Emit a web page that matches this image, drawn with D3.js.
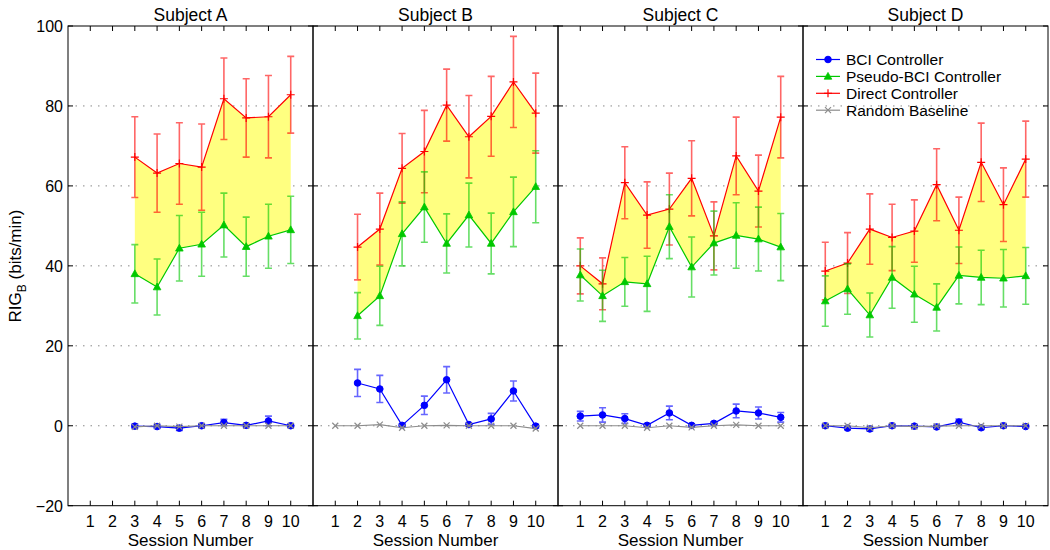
<!DOCTYPE html>
<html><head><meta charset="utf-8">
<script src="https://cdn.jsdelivr.net/npm/d3@7"></script>
<style>body{margin:0;background:#fff}svg{display:block;font-family:"Liberation Sans",Arial,sans-serif}</style>
</head><body><svg id="c" width="1050" height="550"></svg>
<script>
const subjects = ["Subject A","Subject B","Subject C","Subject D"];
const sessions = [1,2,3,4,5,6,7,8,9,10];
const yTicks = [-20,0,20,40,60,80,100];
const gridTicks = [0,20,40,60,80];
const seriesNames = ["BCI Controller","Pseudo-BCI Controller","Direct Controller","Random Baseline"];

const bciMean = [
  [null,null,-0.1,-0.2,-0.6,0,0.8,0.1,1.2,0],
  [null,10.7,9.2,0.1,5.1,11.5,0.3,1.7,8.7,-0.1],
  [2.4,2.7,1.8,0.1,3.2,0.1,0.6,3.7,3.2,2.1],
  [0,-0.6,-0.8,0,-0.1,-0.3,0.9,-0.5,0,-0.2]];
const bciErr = [
  [null,null,0.5,0.5,0.6,0.5,0.8,0.4,1.2,0.4],
  [null,3.4,3.4,0.4,2.3,3.3,0.4,1.4,2.5,0.4],
  [1.2,1.8,1.2,0.4,1.7,0.4,0.4,1.7,1.5,1.2],
  [0.4,0.4,0.5,0.4,0.4,0.4,0.8,0.4,0.4,0.4]];
const pseudoMean = [
  [null,null,38,34.7,44.4,45.4,50.2,44.8,47.4,49],
  [null,27.5,32.5,48,54.7,45.6,52.7,45.6,53.5,59.8],
  [37.7,32.5,36,35.5,49.8,39.7,45.7,47.6,46.7,44.7],
  [31.2,34.2,27.7,37.1,32.9,29.6,37.6,37.1,36.9,37.5]];
const pseudoErr = [
  [null,null,7.3,7,8.2,8,8,7.4,8,8.4],
  [null,5.8,7.4,8,8.8,7.4,8,7.6,8.7,9],
  [6.5,6.4,6.1,6.9,8,7.5,8,8.2,8,8.4],
  [6.3,6.3,5.5,7.7,7,5.9,7.1,6.8,7.2,7.1]];
const directMean = [
  [null,null,67.2,63.2,65.6,64.7,81.8,77,77.3,82.8],
  [null,44.7,49.2,64.4,68.6,80.2,72.3,77.4,86,78.2],
  [40,35.5,60.8,52.7,54.2,61.9,47.5,67.5,58.7,77.2],
  [38.7,40.7,49.2,47.1,48.7,60.3,48.9,65.9,55.3,66.7]];
const directErr = [
  [null,null,10.1,9.8,10.2,10.8,10.2,9.8,10.3,9.6],
  [null,8.2,9,8.7,10.3,9,10.3,10,11.4,10],
  [7,6.5,9,8.3,9,9.4,8.5,9.7,9,10.2],
  [7.2,7.6,8.8,8.3,7.8,9,8.3,9.8,9.2,9.5]];
const randomMean = [
  [null,null,-0.3,0,-0.2,0,0,0,0,0],
  [0,0,0.3,-0.5,0,0.1,0,0,0,-0.7],
  [0,0,0,-0.5,0,-0.4,0,0.2,0,0],
  [0,0,-0.5,0,-0.2,-0.1,0,0,0,0]];

const colors = {bci:"#0000ff", pseudo:"#00c800", direct:"#ff0000", random:"#8c8c8c", fill:"#ffff80"};

const svg = d3.select("#c");
const plotLeft = 68, pw = 245, plotTop = 26, plotBottom = 505.7;
const y = d3.scaleLinear().domain([-20,100]).range([plotBottom, plotTop]);

function marker(g, type, cx, cy, color) {
  if (type === "circle") g.append("circle").attr("cx",cx).attr("cy",cy).attr("r",3.3).attr("fill",color).attr("stroke",color);
  else if (type === "tri") g.append("path").attr("d",`M${cx},${cy-4}L${cx+3.8},${cy+2.8}L${cx-3.8},${cy+2.8}Z`).attr("fill",color).attr("stroke",color).attr("stroke-width",0.8);
  else if (type === "plus") g.append("path").attr("d",`M${cx-4},${cy}H${cx+4}M${cx},${cy-4}V${cy+4}`).attr("stroke",color).attr("stroke-width",1.2);
  else if (type === "x") g.append("path").attr("d",`M${cx-3},${cy-3}L${cx+3},${cy+3}M${cx-3},${cy+3}L${cx+3},${cy-3}`).attr("stroke",color).attr("stroke-width",1.2);
}

subjects.forEach((name, p) => {
  const x0 = plotLeft + p*pw;
  const x = d3.scaleLinear().domain([0,11]).range([x0, x0+pw]);
  const g = svg.append("g");

  gridTicks.forEach(t => g.append("line").attr("x1",x0).attr("x2",x0+pw).attr("y1",y(t)).attr("y2",y(t))
    .attr("stroke","#888").attr("stroke-width",1).attr("stroke-dasharray","1.5,6"));

  const both = sessions.map((s,i)=>({s, hi:directMean[p][i], lo:pseudoMean[p][i]})).filter(d=>d.hi!=null && d.lo!=null);
  g.append("path").datum(both).attr("d", d3.area().x(d=>x(d.s)).y0(d=>y(d.lo)).y1(d=>y(d.hi)))
    .attr("fill",colors.fill).attr("stroke","none");

  function series(mean, err, color, type, lw) {
    const pts = sessions.map((s,i)=>({s, m:mean[p][i], e: err ? err[p][i] : null})).filter(d=>d.m!=null);
    g.append("path").datum(pts).attr("d", d3.line().x(d=>x(d.s)).y(d=>y(d.m)))
      .attr("fill","none").attr("stroke",color).attr("stroke-width",lw);
    if (err) {
      pts.forEach(d => {
        const cx = x(d.s), y1 = y(d.m+d.e), y2 = y(d.m-d.e);
        g.append("path").attr("d",`M${cx},${y1}V${y2}M${cx-3.5},${y1}H${cx+3.5}M${cx-3.5},${y2}H${cx+3.5}`)
          .attr("stroke",color).attr("stroke-opacity",0.6).attr("stroke-width",1.6).attr("fill","none");
      });
    }
    pts.forEach(d => marker(g, type, x(d.s), y(d.m), color));
  }
  series(directMean, directErr, colors.direct, "plus", 1.2);
  series(pseudoMean, pseudoErr, colors.pseudo, "tri", 1.2);
  series(bciMean, bciErr, colors.bci, "circle", 1.2);
  series(randomMean, null, colors.random, "x", 1.2);

  g.append("rect").attr("x",x0).attr("y",plotTop).attr("width",pw).attr("height",plotBottom-plotTop)
    .attr("fill","none").attr("stroke","#000").attr("stroke-width",1);
  sessions.forEach(s => {
    g.append("line").attr("x1",x(s)).attr("x2",x(s)).attr("y1",plotBottom).attr("y2",plotBottom-5).attr("stroke","#000");
    g.append("line").attr("x1",x(s)).attr("x2",x(s)).attr("y1",plotTop).attr("y2",plotTop+5).attr("stroke","#000");
    g.append("text").attr("x",x(s)).attr("y",plotBottom+21).attr("text-anchor","middle").attr("font-size",16).text(s);
  });
  yTicks.forEach(t => {
    g.append("line").attr("x1",x0).attr("x2",x0+5).attr("y1",y(t)).attr("y2",y(t)).attr("stroke","#000");
    g.append("line").attr("x1",x0+pw).attr("x2",x0+pw-5).attr("y1",y(t)).attr("y2",y(t)).attr("stroke","#000");
  });
  g.append("text").attr("x",x0+pw/2).attr("y",21).attr("text-anchor","middle").attr("font-size",17.5).text(name);
  g.append("text").attr("x",x0+pw/2).attr("y",546).attr("text-anchor","middle").attr("font-size",17).text("Session Number");
});

yTicks.forEach(t => svg.append("text").attr("x",plotLeft-5).attr("y",y(t)+6).attr("text-anchor","end")
  .attr("font-size",16).text(t < 0 ? "\u2212" + Math.abs(t) : t));

const yl = svg.append("text").attr("transform","translate(20.5,266) rotate(-90)").attr("text-anchor","middle").attr("font-size",17);
yl.append("tspan").text("RIG");
yl.append("tspan").attr("font-size",12).attr("dy",5).text("B");
yl.append("tspan").attr("dy",-5).text(" (bits/min)");

const lg = svg.append("g");
const legendTypes = [["circle",colors.bci],["tri",colors.pseudo],["plus",colors.direct],["x",colors.random]];
seriesNames.forEach((n,i) => {
  const cy = 59.5 + i*16.9;
  lg.append("line").attr("x1",816).attr("x2",840).attr("y1",cy).attr("y2",cy).attr("stroke",legendTypes[i][1]).attr("stroke-width",1.2);
  marker(lg, legendTypes[i][0], 828, cy, legendTypes[i][1]);
  lg.append("text").attr("x",846).attr("y",cy+5.5).attr("font-size",15.5).text(n);
});
</script></body></html>
